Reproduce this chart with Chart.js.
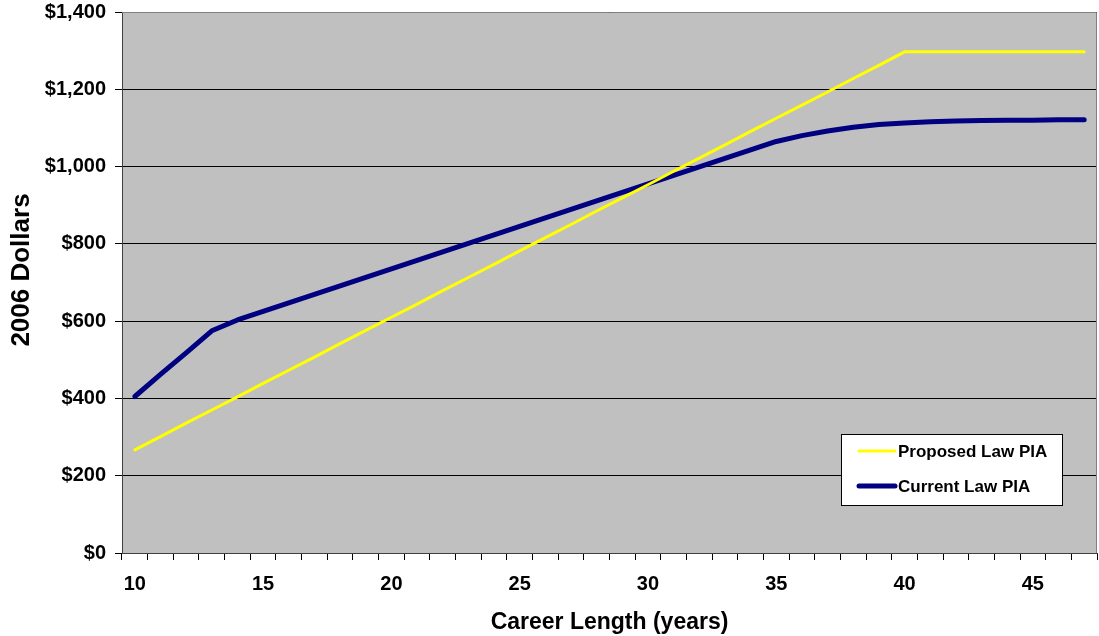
<!DOCTYPE html>
<html>
<head>
<meta charset="utf-8">
<script src="https://cdn.jsdelivr.net/npm/chart.js@4/dist/chart.umd.min.js"></script>
<style>
  html, body { margin: 0; padding: 0; background: #fff; }
  #wrap { width: 1099px; height: 636px; }
</style>
</head>
<body>
<div id="wrap"><canvas id="pia"></canvas></div>
<script>
// career length in years
const years = [10, 11, 12, 13, 14, 15, 16, 17, 18, 19, 20, 21, 22, 23, 24, 25, 26, 27, 28,
  29, 30, 31, 32, 33, 34, 35, 36, 37, 38, 39, 40, 41, 42, 43, 44, 45, 46, 47];

// PIA in 2006 dollars
const proposedLaw = [267, 301, 336, 370, 404, 439, 473, 507, 542, 576, 610, 644, 679, 713,
  747, 782, 816, 850, 885, 919, 953, 988, 1022, 1056, 1091, 1125, 1159, 1193, 1228, 1262,
  1297, 1297, 1297, 1297, 1297, 1297, 1297, 1297];
const currentLaw = [405, 462, 518, 575, 603, 625, 647, 669, 691, 713, 735, 757, 779, 801,
  823, 845, 867, 889, 911, 933, 955, 977, 999, 1021, 1043, 1065, 1080, 1092, 1102, 1109,
  1113, 1116, 1118, 1119, 1120, 1120, 1121, 1121];

const yTicks = [0, 200, 400, 600, 800, 1000, 1200, 1400];

const FONT = "'Liberation Sans', Arial, sans-serif";

// grey plot area with a thin border
const plotBg = {
  id: "plotBg",
  beforeDraw(chart) {
    const { ctx, chartArea: a } = chart;
    ctx.save();
    ctx.fillStyle = "#C0C0C0";
    ctx.fillRect(a.left, a.top, a.right - a.left, a.bottom - a.top);
    ctx.restore();
  },
  afterDatasetsDraw(chart) {
    const { ctx, chartArea: a } = chart;
    ctx.save();
    ctx.strokeStyle = "#808080";
    ctx.lineWidth = 1;
    ctx.beginPath();
    ctx.moveTo(a.left, a.top + 0.5);
    ctx.lineTo(a.right - 0.5, a.top + 0.5);
    ctx.lineTo(a.right - 0.5, a.bottom);
    ctx.stroke();
    ctx.restore();
  }
};

// y axis title, drawn by hand so it sits where the original has it
const yTitle = {
  id: "yTitle",
  afterDraw(chart) {
    const { ctx } = chart;
    ctx.save();
    ctx.translate(22, 270);
    ctx.rotate(-Math.PI / 2);
    ctx.font = "bold 26px " + FONT;
    ctx.fillStyle = "#000";
    ctx.textAlign = "center";
    ctx.textBaseline = "middle";
    ctx.fillText("2006 Dollars", 0, 0);
    ctx.restore();
  }
};

// legend box inside the plot, lower right
const boxLegend = {
  id: "boxLegend",
  afterDraw(chart) {
    const { ctx, chartArea: a } = chart;
    const x = a.right - 256, y = a.bottom - 119, w = 221, h = 71;
    ctx.save();
    ctx.fillStyle = "#fff";
    ctx.fillRect(x, y, w, h);
    ctx.strokeStyle = "#000";
    ctx.lineWidth = 1;
    ctx.strokeRect(x + 0.5, y + 0.5, w, h);
    ctx.font = "bold 17px " + FONT;
    ctx.textBaseline = "middle";
    ctx.fillStyle = "#000";
    chart.data.datasets.forEach((ds, i) => {
      const ly = y + 17 + i * 35;
      ctx.strokeStyle = ds.borderColor;
      ctx.lineWidth = i === 0 ? 3 : 5;
      ctx.lineCap = "round";
      ctx.beginPath();
      ctx.moveTo(x + 18, ly);
      ctx.lineTo(x + 54, ly);
      ctx.stroke();
      ctx.fillText(ds.label, x + 57, ly + 1);
    });
    ctx.restore();
  }
};

new Chart(document.getElementById("pia"), {
  type: "line",
  data: {
    labels: years,
    datasets: [
      {
        label: "Proposed Law PIA",
        data: proposedLaw,
        borderColor: "#FFFF00",
        borderWidth: 3,
        pointRadius: 0,
        tension: 0,
        borderCapStyle: "round"
      },
      {
        label: "Current Law PIA",
        data: currentLaw,
        borderColor: "#000080",
        borderWidth: 5,
        pointRadius: 0,
        tension: 0,
        borderCapStyle: "round",
        borderJoinStyle: "round"
      }
    ]
  },
  options: {
    responsive: true,
    maintainAspectRatio: false,
    animation: false,
    layout: { padding: { top: 0, right: 2, left: 0, bottom: 0 } },
    plugins: {
      legend: { display: false },
      tooltip: { enabled: false }
    },
    scales: {
      x: {
        type: "category",
        offset: true,
        afterFit(scale) { scale.height = 83; },
        border: { color: "#404040", width: 1 },
        grid: {
          offset: true,
          drawOnChartArea: false,
          drawTicks: true,
          tickLength: 7,
          tickColor: "#000"
        },
        ticks: {
          autoSkip: false,
          maxRotation: 0,
          padding: 12,
          color: "#000",
          font: { family: FONT, size: 20, weight: "bold" },
          callback(value, index) {
            const yr = years[index];
            return yr % 5 === 0 ? String(yr) : "";
          }
        },
        title: {
          display: true,
          text: "Career Length (years)",
          color: "#000",
          font: { family: FONT, size: 23, weight: "bold" },
          padding: { top: 7, bottom: 0 }
        }
      },
      y: {
        min: 0,
        max: 1400,
        afterFit(scale) {
          scale.width = 122;
          scale.paddingTop = 12;
          scale.paddingBottom = 0;
        },
        afterBuildTicks(scale) { scale.ticks = yTicks.map(v => ({ value: v })); },
        border: { color: "#404040", width: 1 },
        grid: {
          color: "#000",
          lineWidth: 1,
          drawTicks: true,
          tickLength: 7,
          tickColor: "#000"
        },
        ticks: {
          padding: 9,
          color: "#000",
          font: { family: FONT, size: 20, weight: "bold" },
          callback(value) { return "$" + value.toLocaleString("en-US"); }
        }
      }
    }
  },
  plugins: [plotBg, boxLegend, yTitle]
});
</script>
</body>
</html>
